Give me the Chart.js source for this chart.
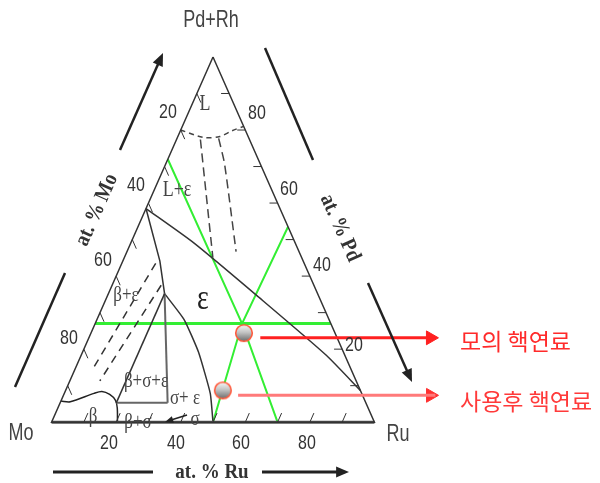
<!DOCTYPE html>
<html>
<head>
<meta charset="utf-8">
<script src="https://cdn.jsdelivr.net/npm/chart.js@4.4.0/dist/chart.umd.min.js"></script>
<style>
  html, body { margin: 0; padding: 0; background: #fff; }
  canvas { display: block; }
</style>
</head>
<body>
<canvas id="ternary" width="600" height="483"></canvas>
<script>
// every point is [at.% Ru, at.% Pd+Rh]; Mo makes up the rest
const triangleSides = [[0, 100], [0, 0], [100, 0], [0, 100]];
const baseSide = [[0, 0], [100, 0]];

// phase boundaries
const liquidArc = [[0, 80], [8, 78], [13, 78.2], [16, 79.8], [19, 81]];
const liquidDash1 = [[7.4, 77.4], [27.4, 45.1]];
const liquidDash2 = [[12.9, 77.7], [18.1, 70.9], [33.8, 46.7]];
const epsilonLimit = [[0, 58.5], [19.5, 49.1], [47.3, 34.1], [75.8, 18.4], [91.3, 8.7]];
const betaEpsLimit = [[0, 58.5], [11.5, 44.1], [17.4, 35.2]];
const threePhaseLeft = [[17.4, 35.2], [17.4, 5.3]];
const threePhaseRight = [[17.4, 35.2], [33.3, 5.3]];
const betaSigmaTop = [[17.4, 5.3], [33.3, 5.3]];
const sigmaEpsCurve = [[17.4, 35.2], [27, 28.1], [35.9, 19.2], [45.2, 7.9], [50, 0]];
const betaCurve = [[0, 5.8], [3, 5.6], [9.2, 7.9], [11.4, 8.4], [14.2, 7.6], [16.8, 6], [18.4, 3.9], [20.4, 0]];
const betaEpsDash1 = [[10.5, 43.5], [5.6, 15.2]];
const betaEpsDash2 = [[15.2, 37.5], [9.3, 11.3]];

// green guide lines and the two fuel compositions
const greenLevel = [[0, 27], [73, 27]];
const greenMo = [[0, 72], [45.5, 27], [70, 0]];
const greenRu = [[46.5, 53.5], [45.5, 27], [50, 0]];
const simFuel = [[47.4, 24.4]];
const spentFuel = [[48.7, 8.7]];
const simArrow = [[53.1, 23.1], [107.3, 23.1]];
const spentArrow = [[54.1, 7.35], [115.2, 7.35]];
const simHead = [[105.8, 23.1]];
const spentHead = [[113.7, 7.35]];

const tickSteps = [10, 20, 30, 40, 50, 60, 70, 80, 90];
const tickLabels = ['20', '40', '60', '80'];

const toXY = ([ru, pd]) => ({ x: ru + pd / 2, y: pd });

function path(data, color, width, dash, order, tension) {
  return {
    data: data.map(toXY), showLine: true, borderColor: color, borderWidth: width,
    borderDash: dash || [], pointRadius: 0, tension: tension || 0, order: order, clip: false
  };
}

function ball(ring) {
  const c = document.createElement('canvas');
  c.width = 20; c.height = 20;
  const g = c.getContext('2d');
  const grad = g.createLinearGradient(0, 2, 0, 18);
  grad.addColorStop(0, '#f6f6f6');
  grad.addColorStop(0.45, '#c4c4c4');
  grad.addColorStop(1, '#6e6e6e');
  g.beginPath();
  g.arc(10, 10, 8.3, 0, Math.PI * 2);
  g.fillStyle = grad;
  g.fill();
  g.lineWidth = 1.6;
  g.strokeStyle = ring;
  g.stroke();
  return c;
}

function marker(data, style, order) {
  return { data: data.map(toXY), showLine: false, pointStyle: style, pointRadius: 9, order: order, clip: false };
}

function head(data, color, order) {
  return {
    data: data.map(toXY), showLine: false, pointStyle: 'triangle', rotation: 90, pointRadius: 8,
    pointBackgroundColor: color, pointBorderColor: color, pointBorderWidth: 1, order: order, clip: false
  };
}

function txt(ctx, s, x, y, font, color, sy, rot, align) {
  ctx.save();
  ctx.translate(x, y);
  if (rot) ctx.rotate(rot * Math.PI / 180);
  ctx.scale(1, sy || 1);
  ctx.font = font;
  ctx.fillStyle = color;
  ctx.textAlign = align || 'center';
  ctx.textBaseline = 'middle';
  ctx.fillText(s, 0, 0);
  ctx.restore();
}

function arrow(ctx, x1, y1, x2, y2, w, size) {
  const a = Math.atan2(y2 - y1, x2 - x1);
  ctx.save();
  ctx.strokeStyle = '#222';
  ctx.fillStyle = '#222';
  ctx.lineWidth = w;
  ctx.beginPath();
  ctx.moveTo(x1, y1);
  ctx.lineTo(x2 - Math.cos(a) * size * 0.8, y2 - Math.sin(a) * size * 0.8);
  ctx.stroke();
  if (size) {
    ctx.beginPath();
    ctx.moveTo(x2, y2);
    ctx.lineTo(x2 - Math.cos(a - 0.4) * size, y2 - Math.sin(a - 0.4) * size);
    ctx.lineTo(x2 - Math.cos(a + 0.4) * size, y2 - Math.sin(a + 0.4) * size);
    ctx.closePath();
    ctx.fill();
  }
  ctx.restore();
}

const decorations = {
  id: 'decorations',
  afterDatasetsDraw(chart) {
    const ctx = chart.ctx;
    const sx = chart.scales.x, sy = chart.scales.y;
    const px = (p) => { const q = toXY(p); return [sx.getPixelForValue(q.x), sy.getPixelForValue(q.y)]; };

    // edge ticks
    ctx.save();
    ctx.strokeStyle = '#333';
    ctx.lineWidth = 1;
    tickSteps.forEach(k => {
      [[[k, 0], [k, 2.5]], [[0, k], [2.5, k - 2.5]], [[100 - k, k], [97.5 - k, k]]].forEach(([a, b]) => {
        const p1 = px(a), p2 = px(b);
        ctx.beginPath(); ctx.moveTo(p1[0], p1[1]); ctx.lineTo(p2[0], p2[1]); ctx.stroke();
      });
    });
    ctx.restore();

    const sans = '"Liberation Sans", Arial, sans-serif';
    const serif = '"Liberation Serif", "Times New Roman", serif';
    txt(ctx, 'Pd+Rh', 211, 21, '18px ' + sans, '#444', 1.3);
    txt(ctx, 'Mo', 21, 434, '18px ' + sans, '#444', 1.3);
    txt(ctx, 'Ru', 398, 435, '18px ' + sans, '#444', 1.3);

    const baseAt = [[109, 443], [176, 443], [241, 443], [307, 443]];
    const leftAt = [[168, 112], [136, 185], [103, 260], [69, 338]];
    const rightAt = [[354, 345], [322, 265], [289, 189], [257, 113]];
    tickLabels.forEach((t, i) => {
      txt(ctx, t, baseAt[i][0], baseAt[i][1], '16px ' + sans, '#333', 1.3);
      txt(ctx, t, leftAt[i][0], leftAt[i][1], '16px ' + sans, '#333', 1.3);
      txt(ctx, t, rightAt[i][0], rightAt[i][1], '16px ' + sans, '#333', 1.3);
    });

    // axis titles with arrows
    txt(ctx, 'at. % Ru', 212, 472, 'bold 19px ' + serif, '#333', 1.15);
    arrow(ctx, 53, 472, 153, 472, 3, 0);
    arrow(ctx, 262, 472, 349, 472, 3, 14);
    txt(ctx, 'at. % Mo', 97, 210, 'bold 19px ' + serif, '#333', 1.15, -66);
    arrow(ctx, 120, 150, 163, 53, 2.5, 14);
    arrow(ctx, 15, 387, 65, 273, 2.5, 0);
    txt(ctx, 'at. % Pd', 340, 228, 'bold 19px ' + serif, '#333', 1.15, 66);
    arrow(ctx, 265, 48, 313, 160, 2.5, 0);
    arrow(ctx, 368, 283, 412, 382, 2.5, 14);

    // phase labels
    txt(ctx, 'L', 205, 104, '18px ' + serif, '#444', 1.3);
    txt(ctx, 'L+ε', 177, 190, '18px ' + serif, '#444', 1.3);
    txt(ctx, 'ε', 203, 299, '28px ' + serif, '#222', 1.3);
    txt(ctx, 'β+ε', 126, 295, '17px ' + serif, '#444', 1.25);
    txt(ctx, 'β+σ+ε', 146, 381, '17px ' + serif, '#444', 1.25);
    txt(ctx, 'σ+ ε', 185, 398, '17px ' + serif, '#444', 1.25);
    txt(ctx, 'β', 93, 416, '17px ' + serif, '#444', 1.25);
    txt(ctx, 'β+σ', 138, 422, '17px ' + serif, '#444', 1.25);
    txt(ctx, 'σ', 195, 419, '17px ' + serif, '#444', 1.25);
    arrow(ctx, 187, 415, 165, 422, 1.5, 9);

    // legend notes
    txt(ctx, '모의 핵연료', 460, 341, '23px "Noto Sans CJK KR", sans-serif', '#ff2a2a', 1, 0, 'left');
    txt(ctx, '사용후 핵연료', 460, 401, '23px "Noto Sans CJK KR", sans-serif', '#ff3a3a', 1, 0, 'left');
  }
};

new Chart(document.getElementById('ternary'), {
  type: 'scatter',
  data: {
    datasets: [
      marker(simFuel, ball('#ff5a3c'), 0),
      marker(spentFuel, ball('#ff5a3c'), 0),
      path(simArrow, '#ff2020', 3, null, 1),
      path(spentArrow, '#ff7a7a', 3, null, 1),
      head(simHead, '#ff2020', 1),
      head(spentHead, '#ff3030', 1),
      path(triangleSides, '#333', 1.5, null, 3),
      path(baseSide, '#555', 3, null, 3),
      path(liquidArc, '#444', 1.5, [5, 4], 3, 0.3),
      path(liquidDash1, '#444', 1.5, [9, 5], 3),
      path(liquidDash2, '#444', 1.5, [9, 5], 3, 0.2),
      path(epsilonLimit, '#333', 1.5, null, 3, 0.2),
      path(betaEpsLimit, '#333', 1.5, null, 3),
      path(threePhaseLeft, '#333', 1.5, null, 3),
      path(threePhaseRight, '#666', 2, null, 3),
      path(betaSigmaTop, '#666', 2, null, 3),
      path(sigmaEpsCurve, '#333', 1.5, null, 3, 0.15),
      path(betaCurve, '#222', 1.5, null, 3, 0.3),
      path(betaEpsDash1, '#333', 1.5, [8, 6], 3),
      path(betaEpsDash2, '#333', 1.5, [8, 6], 3),
      path(greenLevel, '#33ee33', 3, null, 4),
      path(greenMo, '#33ee33', 2, null, 4),
      path(greenRu, '#33ee33', 2, null, 4)
    ]
  },
  options: {
    responsive: false,
    animation: false,
    layout: { padding: 0 },
    plugins: { legend: { display: false }, tooltip: { enabled: false } },
    scales: {
      x: { type: 'linear', min: -12.874, max: 166.766, display: false },
      y: { type: 'linear', min: -13.911, max: 112.861, display: false }
    }
  },
  plugins: [decorations]
});
</script>
</body>
</html>
